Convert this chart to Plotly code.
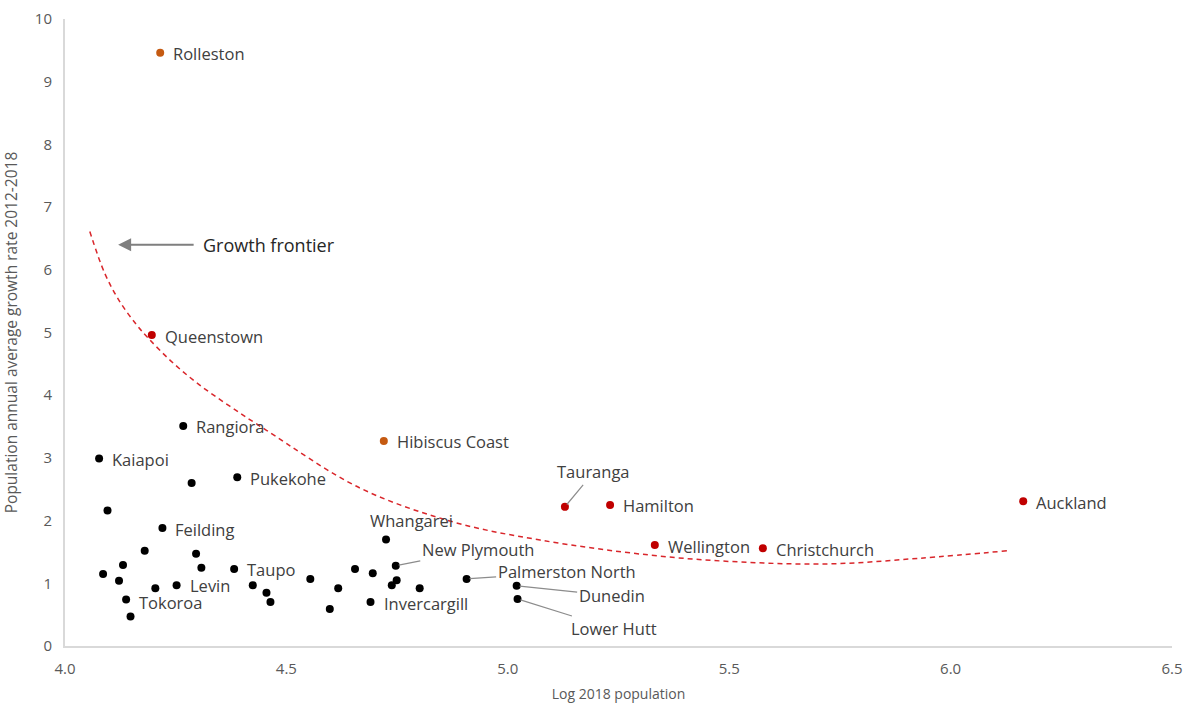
import plotly.graph_objects as go

# ---- data ----
orange_names = ["Rolleston", "Hibiscus Coast"]
orange_x = [4.215, 4.720]
orange_y = [9.46, 3.27]

red_names = ["Queenstown", "Tauranga", "Hamilton", "Wellington", "Christchurch", "Auckland"]
red_x = [4.196, 5.129, 5.231, 5.332, 5.576, 6.164]
red_y = [4.96, 2.22, 2.25, 1.61, 1.56, 2.31]

black_names = ["Rangiora", "Kaiapoi", "Pukekohe", "Feilding", "Taupo", "Levin", "Tokoroa",
               "Whangarei", "New Plymouth", "Palmerston North", "Dunedin", "Lower Hutt", "Invercargill"]
black_x = [4.267, 4.077, 4.389, 4.220, 4.382, 4.252, 4.138,
           4.725, 4.747, 4.907, 5.020, 5.022, 4.690]
black_y = [3.51, 2.99, 2.69, 1.88, 1.23, 0.97, 0.74,
           1.70, 1.28, 1.07, 0.96, 0.75, 0.70]

other_x = [4.286, 4.096, 4.180, 4.296, 4.131, 4.308, 4.086, 4.122, 4.204, 4.424, 4.455,
           4.464, 4.554, 4.617, 4.655, 4.598, 4.148, 4.695, 4.749, 4.738, 4.801]
other_y = [2.60, 2.16, 1.52, 1.47, 1.29, 1.25, 1.15, 1.04, 0.92, 0.97, 0.85,
           0.70, 1.07, 0.92, 1.23, 0.59, 0.47, 1.16, 1.05, 0.97, 0.92]

frontier_x = [4.056, 4.090, 4.124, 4.162, 4.188, 4.237, 4.297, 4.373, 4.455, 4.666,
              4.876, 5.073, 5.321, 5.524, 5.728, 5.931, 6.130]
frontier_y = [6.61, 5.94, 5.49, 5.12, 4.91, 4.56, 4.20, 3.82, 3.44, 2.52,
              1.98, 1.69, 1.45, 1.34, 1.31, 1.40, 1.52]

x_ticks = [4.0, 4.5, 5.0, 5.5, 6.0, 6.5]
y_ticks = list(range(0, 11))

x_title = "Log 2018 population"
y_title = "Population annual average growth rate 2012-2018"
frontier_label = "Growth frontier"

# ---- styles ----
RED = "#C00000"
ORANGE = "#C55A11"
FONT = "Open Sans, Lato, sans-serif"
LABEL_FONT = dict(family=FONT, size=16.5, color="#404040")

fig = go.Figure()
fig.add_trace(go.Scatter(x=frontier_x, y=frontier_y, mode="lines", line_shape="spline",
                         line=dict(color="#D9262B", width=1.5, dash="5px,4px"), hoverinfo="skip"))
fig.add_trace(go.Scatter(x=other_x, y=other_y, mode="markers", marker=dict(color="black", size=8)))
fig.add_trace(go.Scatter(x=black_x, y=black_y, mode="markers", marker=dict(color="black", size=8),
                         text=black_names))
fig.add_trace(go.Scatter(x=red_x, y=red_y, mode="markers", marker=dict(color=RED, size=8), text=red_names))
fig.add_trace(go.Scatter(x=orange_x, y=orange_y, mode="markers", marker=dict(color=ORANGE, size=8),
                         text=orange_names))

# leader-line labels: pixel offsets of text centre from the point
leaders = {
    "Tauranga": (29, -35),
    "New Plymouth": (82, -16),
    "Palmerston North": (100, -7),
    "Dunedin": (95, 10),
    "Lower Hutt": (96, 30),
}
# labels placed above
above = {"Whangarei": (25, 19)}
# small vertical nudges for side labels
nudge = {"Levin": 1, "Tokoroa": -2}

all_names = orange_names + red_names + black_names
all_x = orange_x + red_x + black_x
all_y = orange_y + red_y + black_y
for n, x, y in zip(all_names, all_x, all_y):
    if n in leaders:
        ax, ay = leaders[n]
        fig.add_annotation(x=x, y=y, text=n, showarrow=True, arrowhead=0, arrowwidth=1.2,
                           arrowcolor="#8C8C8C", ax=ax, ay=ay, standoff=3, font=LABEL_FONT)
    elif n in above:
        dx, dy = above[n]
        fig.add_annotation(x=x, y=y, text=n, showarrow=False, xshift=dx, yshift=dy, font=LABEL_FONT)
    else:
        fig.add_annotation(x=x, y=y, text=n, showarrow=False, xanchor="left", xshift=11,
                           yshift=-1 + nudge.get(n, 0), font=LABEL_FONT)

# growth frontier arrow
fig.add_annotation(x=4.120, y=6.40, text=frontier_label, showarrow=True, arrowhead=2, arrowsize=1.3,
                   arrowwidth=2, arrowcolor="#7F7F7F", ax=151, ay=0, startstandoff=8,
                   font=dict(family=FONT, size=18, color="#262626"))

axis_font = dict(family=FONT, size=15, color="#595959")
fig.update_layout(
    width=1190, height=707,
    margin=dict(l=65, r=18, t=19, b=61),
    paper_bgcolor="white", plot_bgcolor="white",
    showlegend=False,
    xaxis=dict(range=[4.0, 6.5], tickvals=x_ticks, ticktext=[f"{v:.1f}" for v in x_ticks],
               showgrid=False, zeroline=False, showline=True, linecolor="#D9D9D9", linewidth=2,
               tickfont=axis_font, ticklabelstandoff=8, automargin=False,
               title=dict(text=x_title, font=dict(family=FONT, size=14, color="#595959"),
                          standoff=12)),
    yaxis=dict(range=[0, 10], tickvals=y_ticks, showgrid=False, zeroline=False, showline=True,
               linecolor="#D9D9D9", linewidth=2, tickfont=axis_font, ticklabelstandoff=8,
               automargin=False,
               title=dict(text=y_title, font=dict(family=FONT, size=15.5, color="#595959"),
                          standoff=14)),
)

fig.write_html("out.html", config={"displayModeBar": False},
               post_script="document.body.style.margin='0';document.body.style.overflow='hidden';")
